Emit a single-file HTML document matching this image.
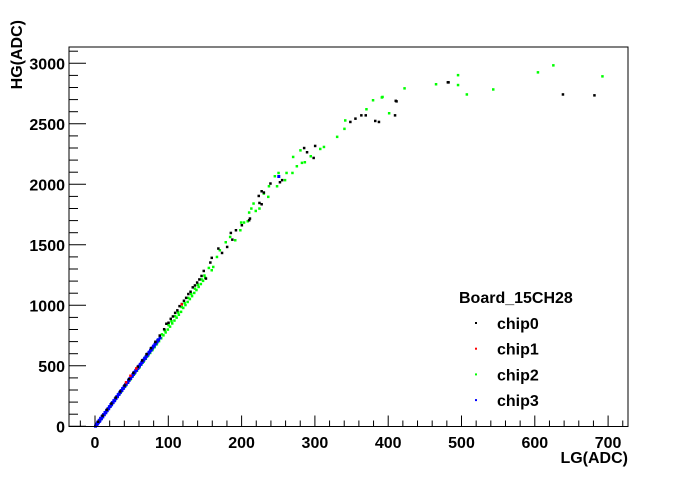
<!DOCTYPE html>
<html><head><meta charset="utf-8"><style>
body{margin:0;background:#fff}
svg text{font-family:"Liberation Sans",Arial,sans-serif;font-weight:bold;font-size:16px;fill:#000}
</style></head><body>
<svg id="c" width="698" height="474" xmlns="http://www.w3.org/2000/svg">
<rect x="0" y="0" width="698" height="474" fill="#fff"/>
<g id="marks"></g>
<rect x="69" y="47" width="559" height="379.5" fill="none" stroke="#000" stroke-width="1"/>
<g id="axes"></g>
<text x="628" y="463" text-anchor="end">LG(ADC)</text>
<text transform="translate(22,20) rotate(-90)" text-anchor="end">HG(ADC)</text>
<g id="legend">
<text x="459" y="303">Board_15CH28</text>
</g>
</svg>
<script>
const xTicks=[0,100,200,300,400,500,600,700];
const yTicks=[0,500,1000,1500,2000,2500,3000];
const seriesNames=['chip0','chip1','chip2','chip3'];
const seriesColors=['#000','#f00','#0f0','#00f'];
const chip0LG=[4,10,16,22,28,34,40,46,52,58,64,70,76,82,88,94,100,106,112,118,124,130,136,142,148,151,157,159,168,173,180,185,187,192,200,210,211,223,224,227,227,230,239,252,255,285,289,298,300,348,355,363,369,382,387,409,410,411,481,482,638,681,97,103,109,115,121,127,133,139,145];
const chip0HG=[40,90,140,190,240,290,340,392,444,494,546,598,648,700,752,804,858,910,960,1012,1064,1114,1166,1216,1286,1223,1355,1394,1471,1435,1484,1600,1545,1622,1664,1705,1719,1906,1848,1837,1945,1934,2008,2019,2036,2302,2267,2220,2319,2517,2545,2572,2572,2526,2517,2572,2692,2688,2845,2845,2745,2737,850,890,940,995,1040,1095,1150,1190,1245];
const chip1LG=[42,48,56,118];
const chip1HG=[365,420,480,1010];
const chip2LG=[1,3,5,7,9,12,15,18,21,24,27,30,33,36,39,42,45,48,51,54,57,60,63,66,69,72,75,78,81,84,87,90,93,96,99,102,105,108,111,114,117,120,123,126,129,132,135,138,141,144,147,150,155,159,161,166,170,178,184,191,198,199,203,208,210,213,216,219,224,230,236,237,245,248,250,259,261,269,270,275,280,282,286,294,307,312,330,340,341,370,379,391,392,401,422,465,495,495,507,543,604,625,692,
2,6,10,14,19,23,28,32,37,41,46,50,55,59,64,68,73,77,82,86,91,95,100,104,109,113,118,122,127,131,136,140,145,149];
const chip2HG=[8,24,40,56,72,96,120,146,170,194,218,244,268,292,316,340,366,390,414,438,462,486,512,536,560,584,608,632,656,680,706,730,754,778,802,826,852,876,900,924,948,980,1004,1030,1054,1078,1104,1128,1154,1178,1204,1230,1311,1292,1319,1402,1457,1523,1567,1540,1622,1686,1686,1697,1769,1802,1843,1782,1802,1926,1898,1986,2069,1986,2096,2036,2096,2096,2228,2151,2283,2179,2184,2234,2294,2311,2394,2460,2530,2622,2697,2720,2724,2589,2795,2829,2904,2822,2745,2786,2927,2985,2894,
22,54,88,120,162,196,238,270,312,346,388,420,462,494,536,570,612,644,688,720,762,794,838,870,912,944,988,1020,1064,1096,1140,1172,1216,1248];
const chip3LG=[0,1,2,3,4,5,6,8,10,12,14,16,18,20,22,24,26,28,30,32,34,36,38,40,42,44,46,48,50,52,54,56,58,60,62,64,66,68,70,72,74,76,78,80,82,84,86,88,250,
1,3,5,7,9,11,13,15,17,19,21,23,25,27,29,31,33,35,37,39,41,43,45,47,49,51,53,55,57,59,61,63,65,67,69,71,73,75,77,79,81,83,85];
const chip3HG=[5,12,20,28,36,44,50,66,82,100,116,133,150,168,182,200,216,234,250,268,284,300,318,334,352,366,384,400,418,434,452,468,484,502,518,534,552,566,584,602,618,634,652,668,686,702,718,734,2069,
22,38,54,70,86,102,118,134,150,166,184,200,216,232,250,266,282,300,316,332,350,366,382,400,416,432,450,466,482,500,516,532,550,566,582,600,616,632,650,666,682,700,716];

const NS='http://www.w3.org/2000/svg';
function xs(v){return 95+v*0.733;}
function ys(v){return 426.3-v*0.121;}
const marks=document.getElementById('marks');
const series=[[chip0LG,chip0HG],[chip1LG,chip1HG],[chip2LG,chip2HG],[chip3LG,chip3HG]];
const order=[2,3,0,1];
order.forEach(function(s){
  const lg=series[s][0],hg=series[s][1];
  for(let i=0;i<lg.length;i++){
    const r=document.createElementNS(NS,'rect');
    r.setAttribute('x',(xs(lg[i])-1).toFixed(1));
    r.setAttribute('y',(ys(hg[i])-1).toFixed(1));
    r.setAttribute('width',s==3?3:2.5);r.setAttribute('height',s==3?3:2.5);
    r.setAttribute('fill',seriesColors[s]);
    
    
    marks.appendChild(r);
  }
});
const axes=document.getElementById('axes');
function line(x1,y1,x2,y2,name){
  const l=document.createElementNS(NS,'line');
  l.setAttribute('x1',x1);l.setAttribute('y1',y1);l.setAttribute('x2',x2);l.setAttribute('y2',y2);
  l.setAttribute('stroke','#000');l.setAttribute('stroke-width','1');
  
  
  axes.appendChild(l);
}
function text(x,y,str,anchor,name){
  const t=document.createElementNS(NS,'text');
  t.setAttribute('x',x);t.setAttribute('y',y);t.setAttribute('text-anchor',anchor);t.textContent=str;
  
  
  axes.appendChild(t);
}
for(let v=-20;v<=720;v+=20){
  const x=xs(v);if(x<69||x>628)continue;
  const major=v%100===0;
  line(x,426.5,x,426.5-(major?11:6),'x-tick');
}
xTicks.forEach(function(v){text(xs(v),448,String(v),'middle','x-tick-label');});
for(let v=0;v<=3100;v+=100){
  const y=ys(v);if(y<47)continue;
  const major=v%500===0;
  line(69,y,69+(major?17:9),y,'y-tick');
}
yTicks.forEach(function(v){text(65,ys(v)+6,String(v),'end','y-tick-label');});
const leg=document.getElementById('legend');
seriesNames.forEach(function(n,i){
  const y=323+i*25.7;
  const r=document.createElementNS(NS,'rect');
  r.setAttribute('x',475);r.setAttribute('y',y-1);r.setAttribute('width',2);r.setAttribute('height',2);
  r.setAttribute('fill',seriesColors[i]);
  
  
  leg.appendChild(r);
  const t=document.createElementNS(NS,'text');
  t.setAttribute('x',497);t.setAttribute('y',y+6);t.textContent=n;
  
  
  leg.appendChild(t);
});
</script>
</body></html>
